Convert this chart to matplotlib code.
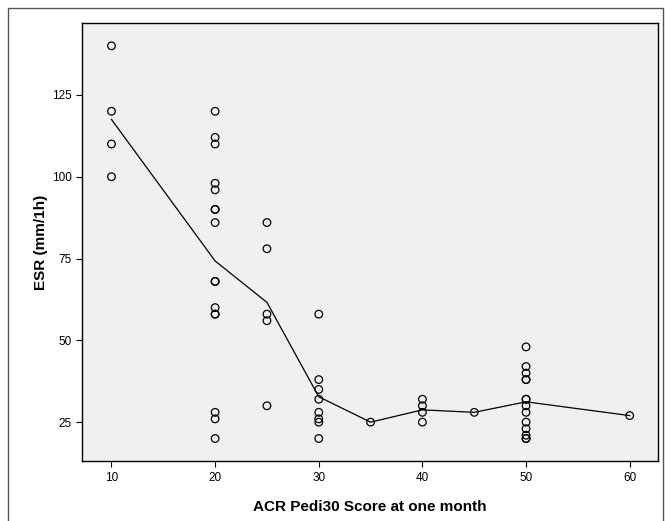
import matplotlib.pyplot as plt
from matplotlib.patches import Rectangle

plt.rcParams['font.family'] = ['Liberation Sans', 'DejaVu Sans']

# ESR values grouped by ACR Pedi30 score
scores = [10, 20, 25, 30, 35, 40, 45, 50, 60]
esr = {
    10: [140, 120, 110, 100],
    20: [120, 112, 110, 98, 96, 90, 90, 86, 68, 68, 60, 58, 58, 28, 26, 20],
    25: [86, 78, 58, 56, 30],
    30: [58, 38, 35, 32, 28, 26, 25, 20],
    35: [25],
    40: [32, 30, 28, 25],
    45: [28],
    50: [48, 42, 40, 38, 38, 32, 32, 30, 28, 25, 23, 21, 20, 20],
    60: [27],
}
xticks = [10, 20, 30, 40, 50, 60]
yticks = [25, 50, 75, 100, 125]

fig = plt.figure(figsize=(6.65, 5.21), dpi=100)
ax = fig.add_axes([0.124, 0.115, 0.865, 0.841])
ax.set_facecolor('#f0f0f0')

xs = []
ys = []
for s in scores:
    xs += [s] * len(esr[s])
    ys += esr[s]
means = [sum(esr[s]) / len(esr[s]) for s in scores]

ax.plot(scores, means, color='black', lw=0.9, zorder=2)
ax.scatter(xs, ys, s=30, facecolors='none', edgecolors='black', linewidths=0.9, zorder=3)

ax.set_xlim(7.2, 62.7)
ax.set_ylim(13.1, 147)
ax.set_xticks(xticks)
ax.set_yticks(yticks)
ax.tick_params(direction='out', length=4, width=0.8, labelsize=8.5, colors='black')
for sp in ax.spines.values():
    sp.set_linewidth(1.0)

ax.set_xlabel('ACR Pedi30 Score at one month', fontsize=11, fontweight='bold', labelpad=12)
ax.set_ylabel('ESR (mm/1h)', fontsize=11, fontweight='bold', labelpad=3)

# outer frame of the exported chart
fig.patches.append(Rectangle((8 / 665, -0.1), 655 / 665, 1.1 - 8 / 521,
                             transform=fig.transFigure, fill=False,
                             edgecolor='#555555', lw=1.0))

fig.savefig('out.png', dpi=100)
